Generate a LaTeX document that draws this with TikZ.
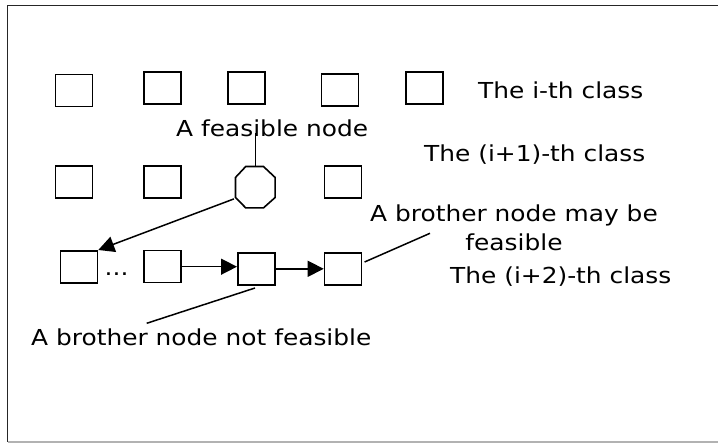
\documentclass[tikz,border=0pt]{standalone}
\usepackage{fontspec}
\setmainfont{DejaVu Sans}[FakeStretch=1.13]
\usetikzlibrary{arrows.meta,calc}

\tikzset{
  box/.style={draw=black, line width=1.6pt, minimum width=37pt, minimum height=32pt, inner sep=0pt},
  lbl/.style={anchor=base west, inner sep=0pt, font=\fontsize{22}{28.3}\selectfont},
  link/.style={line width=1.5pt},
  flow/.style={line width=1.5pt, -{Triangle[length=16pt,width=16pt]}},
}

\begin{document}
\begin{tikzpicture}[x=1pt,y=-1pt]
\useasboundingbox (0,0) rectangle (718,443);

% frame
\draw[line width=1.8pt, black!85] (718,5.5) -- (7.5,5.5) -- (7.5,442);
\draw[line width=1.3pt, black!30] (7.5,442) -- (718,442);

% the i-th class
\node[box] (s11) at (74,90.7) {};
\node[box] (s12) at (162.5,88) {};
\node[box] (s13) at (246.5,88) {};
\node[box] (s14) at (340,90) {};
\node[box] (s15) at (424.5,88) {};
\node[lbl] (c1) at (478,98.3) {The i-th class};

% the (i+1)-th class
\node[box] (s21) at (74,182) {};
\node[box] (s22) at (162.5,182) {};
\node[minimum width=39.3pt, minimum height=41pt, inner sep=0pt] (oct) at (255.3,187.2) {};
\draw[line width=1.6pt]
  ($(oct.north west)+(10.3,0)$) -- ($(oct.north east)+(-11.7,0)$)
  -- ($(oct.north east)+(0,11)$) -- ($(oct.south east)+(0,-10.4)$)
  -- ($(oct.south east)+(-11.7,0)$) -- ($(oct.south west)+(10.3,0)$)
  -- ($(oct.south west)+(0,-10.4)$) -- ($(oct.north west)+(0,11)$) -- cycle;
\node[box] (s24) at (342.8,182.3) {};
\node[lbl] (c2) at (424,161.5) {The (i+1)-th class};
\node[lbl] (feas) at (176,137) {A feasible node};

% the (i+2)-th class
\node[box] (s31) at (79,266.8) {};
\node[lbl] (dots) at (104.5,276) {...};
\node[box] (s32) at (162.5,266.7) {};
\node[box] (s33) at (256.3,268.8) {};
\node[box] (s34) at (343,268.8) {};
\node[lbl] (c3) at (450,283.3) {The (i+2)-th class};
\node[lbl, anchor=center, align=center] (bmay) at (514,227.8) {A brother node may be\\feasible};
\node[lbl] (bnot) at (31,345.5) {A brother node not feasible};

% connectors
\coordinate (feasEnd) at (255.3,133);
\coordinate (mayEnd) at (430,233.3);
\coordinate (notEnd) at (146.7,323.3);
\draw[link] (oct.north) -- (feasEnd);
\draw[flow] ($(oct.south west)+(-1.5,-9)$) -- (s31.north east);
\draw[flow] (s32.east) -- (s33.west |- s32.east);
\draw[flow] (s33.east) -- (s34.west |- s33.east);
\draw[link] ($(s34.east)+(2.3,-6.8)$) -- (mayEnd);
\draw[link] ($(s33.south)+(-1.3,2.4)$) -- (notEnd);
\end{tikzpicture}
\end{document}
